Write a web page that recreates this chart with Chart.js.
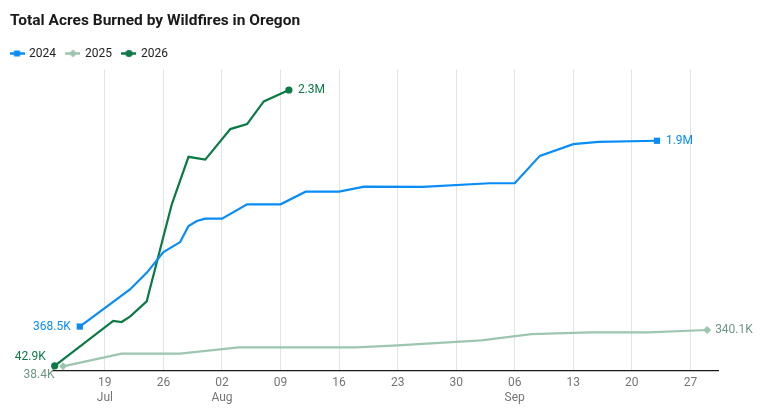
<!DOCTYPE html>
<html>
<head>
<meta charset="utf-8">
<script src="https://cdn.jsdelivr.net/npm/chart.js@4"></script>
<style>
  html, body { margin: 0; padding: 0; background: #fff; }
  #wrap { width: 771px; height: 419px; position: relative; }
</style>
</head>
<body>
<div id="wrap"><canvas id="c"></canvas></div>
<script>
// ---- Data (values in thousands of acres) ----
const seriesNames = ['2024', '2025', '2026'];

const dates2024 = ['07-16','07-22','07-24','07-26','07-28','07-29','07-30','07-31','08-02','08-05','08-09','08-12','08-16','08-19','08-26','09-03','09-06','09-09','09-13','09-16','09-23'];
const acres2024 = [368.5, 676, 814, 986, 1069, 1202, 1244, 1263, 1263, 1382, 1382, 1487, 1487, 1529, 1526, 1557, 1557, 1784, 1881, 1900, 1909];

const dates2025 = ['07-14','07-21','07-28','08-04','08-18','08-23','09-02','09-08','09-15','09-22','09-29'];
const acres2025 = [38.4, 144, 144, 196, 196, 213, 254, 305, 321, 321, 340.1];

const dates2026 = ['07-13','07-20','07-21','07-22','07-24','07-27','07-29','07-31','08-03','08-05','08-07','08-10'];
const acres2026 = [42.9, 415, 406, 451, 578, 1382, 1776, 1753, 2006, 2047, 2235, 2330];

const tickDates = ['07-19','07-26','08-02','08-09','08-16','08-23','08-30','09-06','09-13','09-20','09-27'];
const monthNames = {7: 'Jul', 8: 'Aug', 9: 'Sep'};

// ---- helpers ----
const monthOffset = {7: 0, 8: 31, 9: 62};
function dayNum(s) { const [m, d] = s.split('-').map(Number); return monthOffset[m] + d; }
function toPoints(dates, vals) { return dates.map((d, i) => ({x: dayNum(d), y: vals[i]})); }
function fmt(v) { return v >= 1000 ? (v / 1000).toFixed(1) + 'M' : v.toFixed(1) + 'K'; }

const colors = ['#0a8cf7', '#9cc6b0', '#0b7a46'];
const labelColors = ['#0a8cf7', '#6e9684', '#0b7a46'];
const pointStyles = ['rect', 'rectRot', 'circle'];
const pointRadii = [4.4, 4, 3.6];

const tickValues = tickDates.map(dayNum);
const tickLabelMap = {};
let lastMonth = null;
tickDates.forEach(s => {
  const [m, d] = s.split('-');
  const mm = Number(m);
  tickLabelMap[dayNum(s)] = mm !== lastMonth ? [d, monthNames[mm]] : [d];
  lastMonth = mm;
});

function endRadius(r) {
  return ctx => (ctx.dataIndex === 0 || ctx.dataIndex === ctx.dataset.data.length - 1) ? r : 0;
}

const allDates = [dates2024, dates2025, dates2026];
const allVals = [acres2024, acres2025, acres2026];

const datasets = seriesNames.map((name, i) => ({
  label: name,
  data: toPoints(allDates[i], allVals[i]),
  borderColor: colors[i],
  backgroundColor: colors[i],
  borderWidth: 2.2,
  tension: 0,
  pointStyle: pointStyles[i],
  pointRadius: endRadius(pointRadii[i]),
  pointHoverRadius: endRadius(pointRadii[i]),
  pointBorderWidth: 0,
  clip: false
}));

// legend swatches: line + marker
function swatch(i) {
  const c = document.createElement('canvas');
  c.width = 15; c.height = 9;
  const g = c.getContext('2d');
  g.strokeStyle = colors[i]; g.lineWidth = 2.5;
  g.beginPath(); g.moveTo(0, 4.5); g.lineTo(15, 4.5); g.stroke();
  g.fillStyle = colors[i];
  g.beginPath();
  if (i === 0) g.rect(4.5, 1.5, 6, 6);
  else if (i === 1) { g.moveTo(7.5, 0.5); g.lineTo(11.5, 4.5); g.lineTo(7.5, 8.5); g.lineTo(3.5, 4.5); g.closePath(); }
  else g.arc(7.5, 4.5, 3.6, 0, Math.PI * 2);
  g.fill();
  return c;
}

const endLabels = {
  id: 'endLabels',
  afterDatasetsDraw(chart, args, opts) {
    const ctx = chart.ctx;
    ctx.save();
    ctx.font = '12px Roboto';
    ctx.textBaseline = 'middle';
    chart.data.datasets.forEach((ds, i) => {
      const meta = chart.getDatasetMeta(i);
      const pts = meta.data;
      const cfg = opts.items[i];
      ctx.fillStyle = labelColors[i];
      const first = pts[0], last = pts[pts.length - 1];
      ctx.textAlign = 'right';
      ctx.fillText(fmt(ds.data[0].y), first.x + cfg.first[0], first.y + cfg.first[1]);
      ctx.textAlign = 'left';
      ctx.fillText(fmt(ds.data[ds.data.length - 1].y), last.x + cfg.last[0], last.y + cfg.last[1]);
    });
    ctx.restore();
  }
};

const titleShift = {
  id: 'titleShift',
  afterLayout(chart) {
    if (chart.titleBlock) chart.titleBlock.left = 10;
  }
};

Chart.defaults.font.family = 'Roboto';

new Chart(document.getElementById('c'), {
  type: 'line',
  data: { datasets },
  plugins: [endLabels, titleShift],
  options: {
    responsive: true,
    maintainAspectRatio: false,
    animation: false,
    layout: { padding: { left: 0, right: 53, top: 9, bottom: 10 } },
    plugins: {
      title: {
        display: true,
        text: 'Total Acres Burned by Wildfires in Oregon',
        align: 'start',
        color: '#1a1a1a',
        font: { size: 15.5, weight: 'bold' },
        padding: { top: 2.4, bottom: 6.5 }
      },
      legend: {
        display: true,
        align: 'start',
        labels: {
          usePointStyle: true,
          pointStyleWidth: 12,
          boxHeight: 12,
          padding: 11,
          color: '#222',
          font: { size: 12 },
          generateLabels(chart) {
            const items = Chart.defaults.plugins.legend.labels.generateLabels(chart);
            items.forEach((it, i) => { it.pointStyle = swatch(i); });
            return items;
          }
        }
      },
      tooltip: { enabled: false },
      endLabels: {
        items: [
          { first: [-9, 0], last: [9, 0] },
          { first: [-8.5, 9], last: [8, 0] },
          { first: [-9, -9], last: [9, 0] }
        ]
      }
    },
    scales: {
      x: {
        type: 'linear',
        min: 12.8,
        max: 92.3,
        afterBuildTicks(scale) { scale.ticks = tickValues.map(v => ({value: v})); },
        ticks: {
          autoSkip: false,
          maxRotation: 0,
          padding: 4,
          color: '#757575',
          font: { size: 12, lineHeight: 1.25 },
          callback(v) { return tickLabelMap[v] || ''; }
        },
        grid: { color: '#e3e3e3', drawTicks: false, lineWidth: 1 },
        border: { display: true, color: '#1a1a1a', width: 1.3 }
      },
      y: {
        min: 0,
        max: 2500,
        afterFit(scale) { scale.width = 53; },
        ticks: { display: false },
        grid: { display: false },
        border: { display: false }
      }
    }
  }
});
</script>
</body>
</html>
